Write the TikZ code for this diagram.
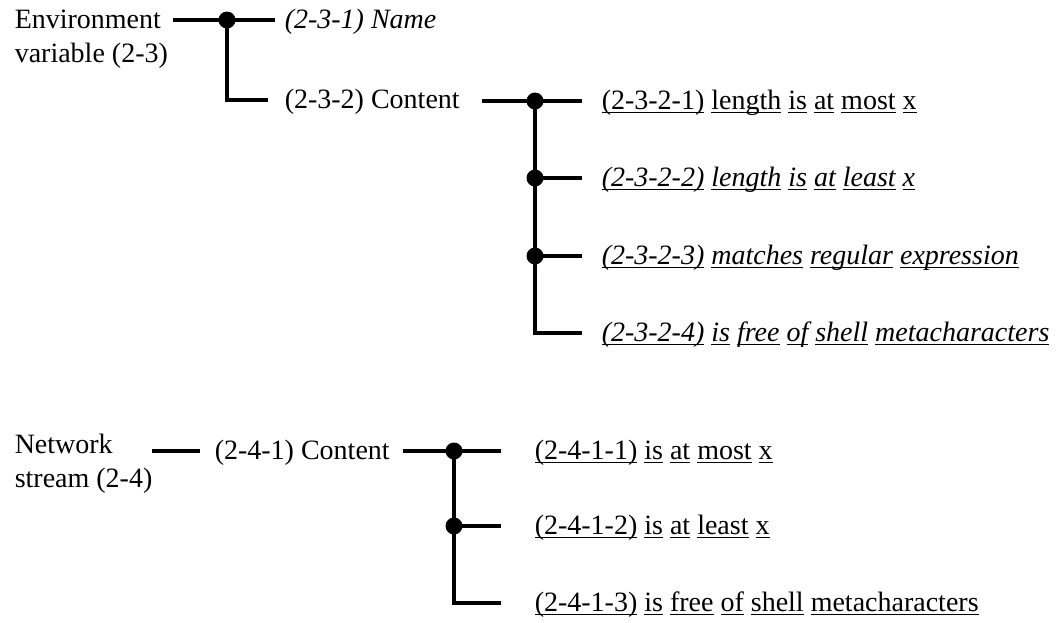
\documentclass[tikz,border=0pt]{standalone}
\usepackage{fontspec}
\setmainfont{Liberation Serif}
\newcommand\uw[1]{\setbox0\hbox{#1}\rlap{\rule[-0.16em]{\wd0}{0.05em}}\box0\relax}
\begin{document}
\begin{tikzpicture}[x=1pt,y=-1pt,line width=3.5pt,
  lbl/.style={anchor=base west,inner sep=0pt,font=\fontsize{28}{34}\selectfont},
  dotn/.style={circle,fill=black,draw=none,inner sep=0pt,minimum size=17pt}]
\useasboundingbox (0,0) rectangle (1063,622);
% ---------- top part ----------
\node[lbl] (env) at (13,28) {\begin{tabular}[t]{@{}l@{}}Environment\\variable (2-3)\end{tabular}};
\node[dotn] (d0) at (227,20) {};
\coordinate (e0) at (173,20);
\coordinate (n0) at (275,20);
\coordinate (c0) at (268,100);
\node[lbl] (name) at (283,28) {\itshape (2-3-1) Name};
\node[lbl] (cont) at (283,108) {(2-3-2) Content};
\draw (e0) -- (d0.center) -- (n0);
\draw (d0.center) |- (c0);

\coordinate (c1) at (482,101);
\node[dotn] (t1) at (535,101) {};
\node[dotn] (t2) at (535,178) {};
\node[dotn] (t3) at (535,256) {};
\coordinate (t4) at (535,333);
\coordinate (r1) at (582,101);
\coordinate (r2) at (582,178);
\coordinate (r3) at (582,256);
\coordinate (r4) at (582,333);
\draw (c1) -- (t1.center) -- (r1);
\draw (t2.center) -- (r2);
\draw (t3.center) -- (r3);
\draw (t1.center) -- (t4) -- (r4);
\node[lbl] (s1) at (600,109) {\uw{(2-3-2-1)} \uw{length} \uw{is} \uw{at} \uw{most} \uw{x}};
\node[lbl] (s2) at (600,186) {\itshape\uw{(2-3-2-2)} \uw{length} \uw{is} \uw{at} \uw{least} \uw{x}};
\node[lbl] (s3) at (600,264) {\itshape\uw{(2-3-2-3)} \uw{matches} \uw{regular} \uw{expression}};
\node[lbl] (s4) at (600,341) {\itshape\uw{(2-3-2-4)} \uw{is} \uw{free} \uw{of} \uw{shell} \uw{metacharacters}};
% ---------- bottom part ----------
\node[lbl] (net) at (13,453) {\begin{tabular}[t]{@{}l@{}}Network\\stream (2-4)\end{tabular}};
\coordinate (a0) at (152,451);
\coordinate (a1) at (200,451);
\draw (a0) -- (a1);
\node[lbl] (cont2) at (213,459) {(2-4-1) Content};
\coordinate (b0) at (403,451);
\node[dotn] (u1) at (454,451) {};
\node[dotn] (u2) at (454,526) {};
\coordinate (u3) at (454,603);
\coordinate (q1) at (501,451);
\coordinate (q2) at (501,526);
\coordinate (q3) at (501,603);
\draw (b0) -- (u1.center) -- (q1);
\draw (u2.center) -- (q2);
\draw (u1.center) -- (u3) -- (q3);
\node[lbl] (v1) at (533,459) {\uw{(2-4-1-1)} \uw{is} \uw{at} \uw{most} \uw{x}};
\node[lbl] (v2) at (533,534) {\uw{(2-4-1-2)} \uw{is} \uw{at} \uw{least} \uw{x}};
\node[lbl] (v3) at (533,611) {\uw{(2-4-1-3)} \uw{is} \uw{free} \uw{of} \uw{shell} \uw{metacharacters}};
\end{tikzpicture}
\end{document}
